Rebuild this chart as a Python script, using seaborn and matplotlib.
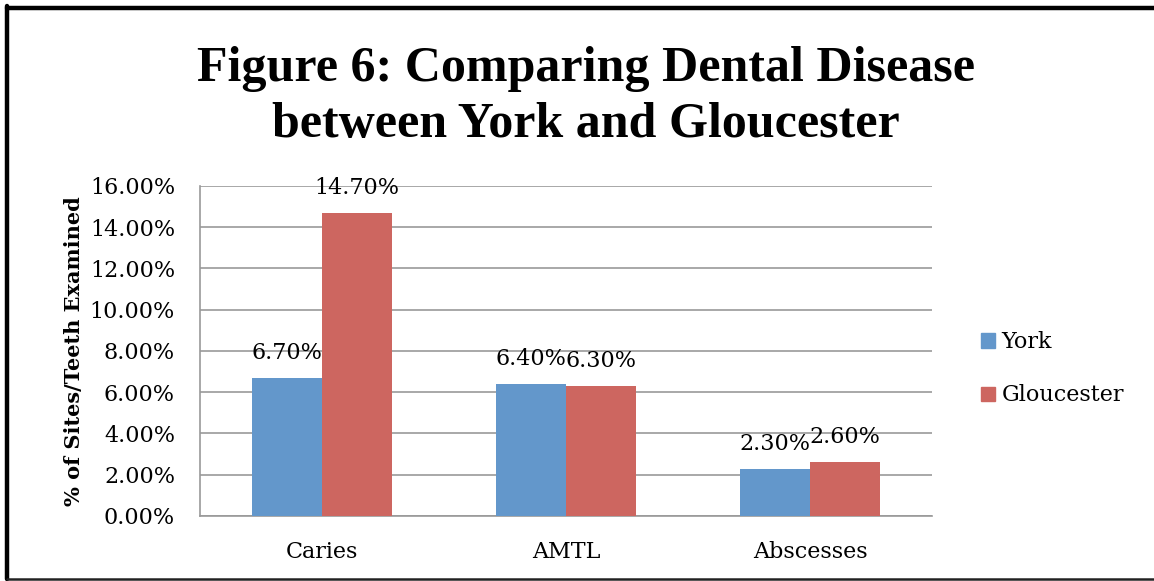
import pandas as pd
import matplotlib.pyplot as plt
import matplotlib.patches as mpatches
import matplotlib.lines as mlines
import seaborn as sns

categories = ['Caries', 'AMTL', 'Abscesses']
york = [6.7, 6.4, 2.3]
gloucester = [14.7, 6.3, 2.6]
series = ['York', 'Gloucester']
colors = ['#6397CB', '#CD6660']
yticks = [0, 2, 4, 6, 8, 10, 12, 14, 16]

df = pd.DataFrame({
    'category': categories * 2,
    'site': ['York'] * 3 + ['Gloucester'] * 3,
    'value': york + gloucester,
})

sns.set_style('white')
plt.rcParams['font.family'] = ['DejaVu Serif']
plt.rcParams['text.color'] = 'black'
plt.rcParams['axes.labelcolor'] = 'black'
plt.rcParams['xtick.labelcolor'] = 'black'
plt.rcParams['ytick.labelcolor'] = 'black'

fig = plt.figure(figsize=(11.54, 5.81), dpi=100)
ax = fig.add_axes([0.1733, 0.1119, 0.6343, 0.568])

sns.barplot(data=df, x='category', y='value', hue='site', order=categories,
            hue_order=series, palette=colors, width=0.574, saturation=1,
            linewidth=0, legend=False, ax=ax, zorder=3)

for cont in ax.containers:
    ax.bar_label(cont, labels=[f'{v:.2f}%' for v in cont.datavalues],
                 fontsize=16, padding=10)

ax.set_ylim(0, 16)
ax.set_xlim(-0.5, 2.5)
ax.set_yticks(yticks)
ax.set_yticklabels([f'{t:.2f}%' for t in yticks], fontsize=16)
ax.set_xticks([0, 1, 2])
ax.set_xticklabels(categories, fontsize=16)
ax.set_xticks([-0.5, 0.5, 1.5, 2.5], minor=True)
ax.tick_params(axis='x', which='major', length=0, pad=18)
ax.tick_params(axis='x', which='minor', length=6, color='#999999', direction='out')
ax.tick_params(axis='y', length=7, color='#999999', direction='out', pad=11)
ax.yaxis.grid(True, color='#999999', linewidth=1.2, zorder=0)
ax.set_axisbelow(True)
for side in ['top', 'right']:
    ax.spines[side].set_visible(False)
for side in ['left', 'bottom']:
    ax.spines[side].set_color('#999999')
    ax.spines[side].set_linewidth(1.2)
ax.set_xlabel('')
ax.set_ylabel('% of Sites/Teeth Examined', fontsize=15, fontweight='bold', labelpad=4)

fig.text(0.508, 0.833, 'Figure 6: Comparing Dental Disease\nbetween York and Gloucester',
         ha='center', va='center', fontsize=36, fontweight='bold', linespacing=1.3,
         family='Liberation Serif')

handles = [mpatches.Patch(color=c, label=s) for c, s in zip(colors, series)]
fig.legend(handles=handles, loc='center left', bbox_to_anchor=(0.833, 0.365),
           frameon=False, fontsize=16, handlelength=0.6, handleheight=0.6,
           handletextpad=0.3, labelspacing=1.4)

# page frame: thick left/top, thin bottom, none on the right
fig.lines.append(mlines.Line2D([0.0061, 0.0061], [0.003, 0.99], transform=fig.transFigure,
                               color='black', linewidth=3.2))
fig.lines.append(mlines.Line2D([0.0061, 1.0], [0.9865, 0.9865], transform=fig.transFigure,
                               color='black', linewidth=3.2))
fig.lines.append(mlines.Line2D([0.0061, 1.0], [0.0043, 0.0043], transform=fig.transFigure,
                               color='#222222', linewidth=1.8))

fig.savefig('out.png', dpi=100)
